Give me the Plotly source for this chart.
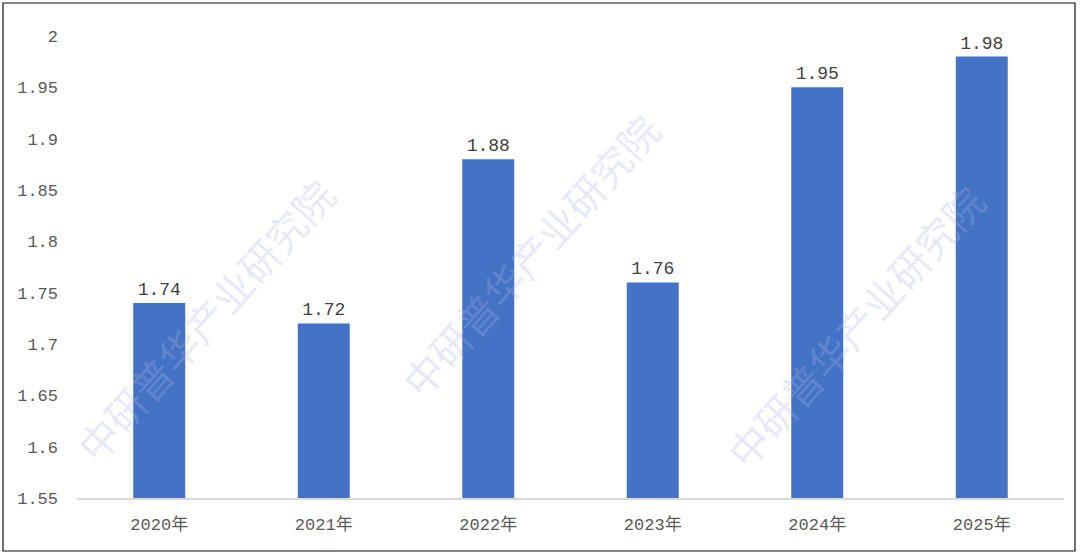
import plotly.graph_objects as go

categories = ["2020年", "2021年", "2022年", "2023年", "2024年", "2025年"]
values = [1.74, 1.72, 1.88, 1.76, 1.95, 1.98]
y_ticks = [1.55, 1.6, 1.65, 1.7, 1.75, 1.8, 1.85, 1.9, 1.95, 2.0]
y_tick_text = ["1.55", "1.6", "1.65", "1.7", "1.75", "1.8", "1.85", "1.9", "1.95", "2"]

W, H = 1080, 555
ml, mr, mt, mb = 77, 16, 36, 57
pw, ph = W - ml - mr, H - mt - mb

font_mono = "Liberation Mono, DejaVu Sans Mono, monospace"
grey = "#595959"

fig = go.Figure(go.Bar(
    x=categories, y=values,
    marker=dict(color="#4472C4", line=dict(width=0)),
    text=[f"{v:.2f}" for v in values],
    textposition="outside",
    textfont=dict(family=font_mono, size=18, color="#404040"),
    cliponaxis=False,
))

# border
fig.add_shape(type="rect", xref="paper", yref="paper",
              x0=(3 - ml) / pw, x1=(1075 - ml) / pw,
              y0=(H - mb - 551) / ph, y1=(H - mb - 3) / ph,
              line=dict(color="#111111", width=1.2), layer="above")

# watermark
wm = [("中研普华产业研究院", 530, 255), ("中研普华产业研究院", 1000, 170), ("中研普华产业研究院", 60, 320)]
for t, px, py in wm:
    fig.add_annotation(xref="paper", yref="paper",
                       x=(px - ml) / pw, y=(H - mb - py) / ph,
                       text=t, showarrow=False, textangle=-48,
                       font=dict(family="Noto Sans CJK SC", size=40, color="rgba(170,180,235,0.3)"))

fig.update_layout(
    width=W, height=H,
    margin=dict(l=ml, r=mr, t=mt, b=mb),
    paper_bgcolor="white", plot_bgcolor="white",
    bargap=0.684,
    showlegend=False,
    xaxis=dict(showgrid=False, showline=True, linecolor="#d9d9d9", linewidth=1.5,
               ticks="", ticklabelstandoff=10,
               tickfont=dict(family=font_mono + ", Noto Sans CJK SC", size=17, color=grey)),
    yaxis=dict(range=[1.55, 2.0], tickvals=y_ticks, ticktext=y_tick_text,
               showgrid=False, zeroline=False, showline=False, ticks="",
               ticklabelstandoff=18,
               tickfont=dict(family=font_mono, size=17, color=grey)),
)

fig.write_html("out.html", config={"displayModeBar": False},
               post_script="document.body.style.margin='0';")
